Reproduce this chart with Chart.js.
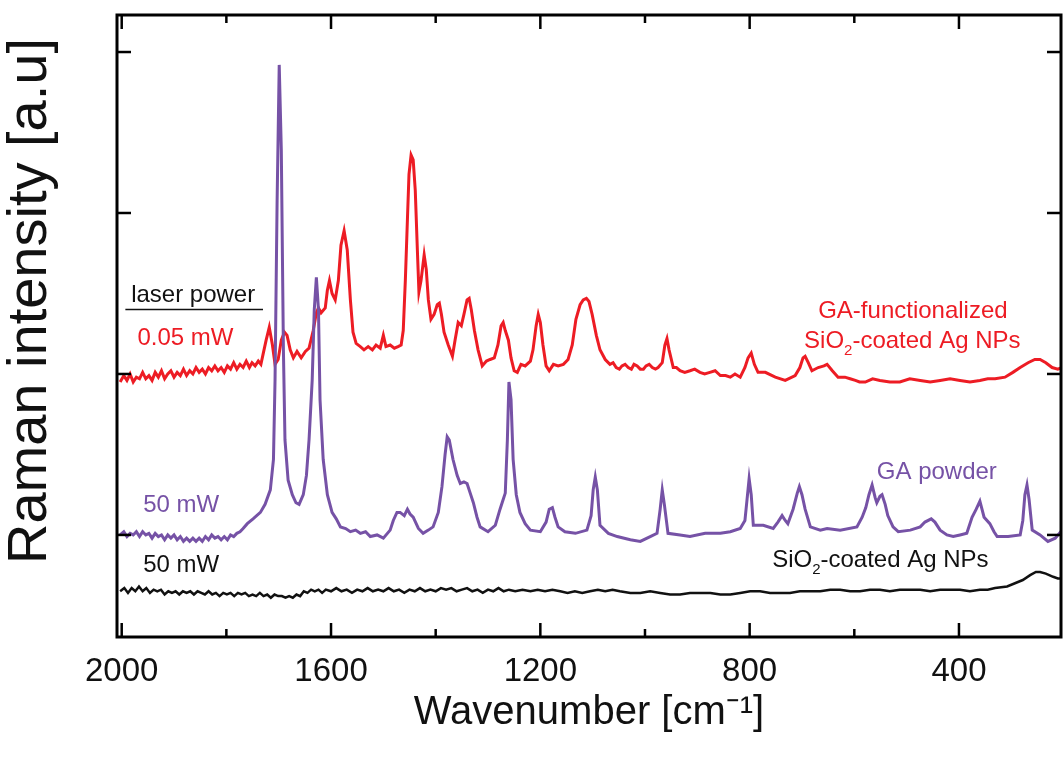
<!DOCTYPE html>
<html>
<head>
<meta charset="utf-8">
<script src="https://cdn.jsdelivr.net/npm/chart.js@4.4.1/dist/chart.umd.min.js"></script>
<style>
  html, body { margin: 0; padding: 0; background: #fff; }
  #wrap { width: 1063px; height: 762px; }
</style>
</head>
<body>
<div id="wrap"><canvas id="ramanChart"></canvas></div>
<script>
// Raman spectra: wavenumber [cm-1] and intensity [a.u.]

// GA-functionalized SiO2-coated Ag NPs, 0.05 mW (red)
const gaFuncWn = [
  2003,1996,1990,1984,1978,1972,1966,1960,1954,1948,
  1942,1936,1930,1924,1918,1912,1906,1900,1894,1888,
  1882,1876,1870,1864,1858,1852,1846,1840,1834,1828,
  1822,1816,1810,1804,1798,1792,1786,1780,1774,1768,
  1762,1756,1751,1745,1739,1734,
  1730,1724,1718,1712,1707,1701,1695,1689,1684,1678,
  1672,1665,1657,1649,1642,1634,1628,1624,1619,1611,
  1607,1603,1598,1592,1586,1581,1575,1569,1563,1558,
  1552,1544,1537,1529,1521,1514,1506,1500,1495,1487,
  1479,1472,1466,1462,1458,1454,1451,1447,1443,1439,
  1435,1432,1428,1422,1418,1414,1409,1403,1397,1393,
  1389,1384,1376,1368,1363,1357,1351,1346,1340,1336,
  1332,1326,1319,1311,1303,1296,1288,1281,1275,1271,
  1267,1261,1256,1250,1244,1237,1229,1219,1214,1208,
  1204,1200,1195,1189,1183,1175,1166,1156,1147,1139,
  1132,1124,1118,1112,1107,1101,1093,1086,1076,
  1067,1061,1055,1049,1044,1038,1032,1026,1021,1015,
  1009,1003,998,992,986,980,975,967,962,958,
  954,946,940,933,924,914,905,895,886,876,
  866,856,846,837,828,818,809,803,797,791,
  784,770,751,732,713,704,698,694,688,681,
  669,658,652,642,631,618,608,598,590,579,
  565,551,532,513,494,474,455,436,417,398,
  379,360,345,331,312,297,283,268,255,245,
  234,222,211,203
];
const gaFuncInt = [
  1.95,1.99,1.96,2.00,1.95,1.98,1.97,2.01,1.97,1.99,
  1.96,2.01,1.98,2.02,1.97,2.00,2.02,1.98,2.01,1.99,
  2.03,1.99,2.02,2.00,2.04,2.01,2.03,2.00,2.04,2.02,
  2.05,2.02,2.04,2.01,2.05,2.03,2.07,2.03,2.06,2.04,
  2.08,2.04,2.07,2.05,2.08,2.06,
  2.12,2.21,2.29,2.18,2.06,2.09,2.21,2.26,2.24,2.15,
  2.10,2.14,2.10,2.14,2.16,2.27,2.38,2.41,2.38,2.41,
  2.52,2.58,2.50,2.46,2.58,2.80,2.89,2.77,2.46,2.26,
  2.19,2.17,2.15,2.17,2.15,2.18,2.16,2.24,2.17,2.18,
  2.16,2.17,2.18,2.27,2.58,2.96,3.24,3.36,3.33,3.14,
  2.77,2.51,2.58,2.74,2.65,2.46,2.34,2.37,2.43,2.44,
  2.37,2.26,2.18,2.11,2.21,2.32,2.30,2.37,2.46,2.47,
  2.40,2.27,2.15,2.05,2.08,2.09,2.10,2.18,2.30,2.32,
  2.27,2.21,2.10,2.02,2.01,2.06,2.05,2.08,2.15,2.30,
  2.37,2.32,2.18,2.05,2.02,2.06,2.05,2.06,2.09,2.18,
  2.34,2.43,2.46,2.47,2.45,2.37,2.24,2.15,2.09,
  2.06,2.07,2.04,2.03,2.05,2.06,2.04,2.03,2.06,2.05,
  2.03,2.03,2.05,2.06,2.04,2.03,2.04,2.07,2.18,2.22,
  2.15,2.04,2.04,2.02,2.01,2.02,2.03,2.01,2.00,2.01,
  2.02,1.99,1.99,1.98,2.00,1.98,2.04,2.10,2.13,2.06,
  2.01,2.01,1.98,1.96,1.99,2.04,2.10,2.11,2.07,2.02,
  2.04,2.05,2.06,2.02,1.98,1.98,1.97,1.96,1.95,1.95,
  1.97,1.96,1.95,1.95,1.97,1.96,1.95,1.96,1.97,1.96,
  1.95,1.96,1.97,1.97,1.98,2.01,2.04,2.07,2.09,2.09,
  2.07,2.04,2.03,2.04
];

// GA powder, 50 mW (purple)
const gaPowderWn = [
  2003,1996,1990,1984,1978,1972,1966,1960,1954,1948,
  1942,1936,1930,1924,1918,1912,1906,1900,1894,1888,
  1882,1876,1870,1864,1858,1852,1846,1840,1834,1828,
  1822,1816,1810,1804,1798,1792,1786,1780,1774,1768,
  1760,1749,1735,1726,1716,1710,1707,1703,1699,1695,
  1691,1688,1682,1674,1667,1661,1653,1647,1642,1636,
  1632,1628,1624,1621,1615,1607,1598,1590,1582,1572,
  1563,1553,1544,1534,1525,1512,1500,1487,1481,1474,
  1468,1460,1454,1449,1443,1433,1424,1414,1405,1395,
  1388,1382,1378,1374,1367,1359,1353,1346,1340,1334,
  1328,1321,1315,1300,1286,1277,1271,1267,1263,1260,
  1256,1252,1246,1239,1229,1219,1200,1189,1183,1177,
  1172,1166,1153,1133,1111,1103,1099,1095,1091,1086,
  1070,1053,1028,1009,990,977,971,967,963,956,
  933,914,885,856,837,818,809,805,801,797,
  793,774,755,746,738,732,727,717,709,705,
  700,694,684,665,652,627,595,585,578,572,
  566,560,557,551,547,541,536,526,516,493,
  474,465,453,446,436,423,411,398,385,375,
  367,360,352,341,333,327,306,283,278,274,
  270,266,260,245,230,216,203
];
const gaPowderInt = [
  1.00,1.02,0.99,1.01,1.00,1.02,0.99,1.02,1.00,1.01,
  0.98,1.01,0.99,1.00,0.97,1.00,0.98,1.00,0.97,0.99,
  0.96,0.98,0.96,0.98,0.96,0.98,0.96,0.99,0.97,1.00,
  0.98,0.99,0.97,0.99,0.97,1.00,0.99,1.01,1.02,1.04,
  1.07,1.10,1.14,1.19,1.28,1.47,1.96,3.08,3.92,3.39,
  2.15,1.59,1.34,1.25,1.20,1.19,1.25,1.37,1.59,1.96,
  2.40,2.60,2.40,1.84,1.47,1.25,1.14,1.10,1.05,1.04,
  1.02,1.03,1.01,1.02,0.99,1.00,0.98,1.03,1.09,1.14,
  1.14,1.12,1.16,1.13,1.11,1.04,1.01,1.03,1.05,1.14,
  1.30,1.50,1.61,1.59,1.47,1.37,1.32,1.33,1.32,1.26,
  1.20,1.11,1.05,1.02,1.06,1.16,1.22,1.26,1.59,1.95,
  1.84,1.47,1.25,1.14,1.07,1.03,1.02,1.08,1.16,1.17,
  1.11,1.05,1.02,1.01,1.03,1.12,1.28,1.36,1.28,1.06,
  1.01,0.99,0.97,0.96,0.99,1.01,1.16,1.28,1.19,1.01,
  1.00,0.99,1.01,1.01,1.02,1.04,1.09,1.22,1.35,1.25,
  1.06,1.06,1.04,1.08,1.12,1.09,1.07,1.16,1.26,1.30,
  1.25,1.16,1.05,1.03,1.04,1.03,1.05,1.11,1.17,1.25,
  1.31,1.23,1.20,1.24,1.25,1.19,1.12,1.05,1.02,1.03,
  1.05,1.08,1.10,1.08,1.03,1.00,0.99,1.00,1.01,1.11,
  1.16,1.21,1.11,1.07,1.02,0.99,0.99,1.00,1.09,1.25,
  1.31,1.22,1.03,1.00,0.96,0.98,1.03
];

// SiO2-coated Ag NPs, 50 mW (black)
const agNpWn = [
  2003,1995,1988,1981,1974,1967,1960,1953,1946,1939,
  1932,1925,1918,1911,1904,1897,1890,1883,1876,1869,
  1862,1855,1848,1841,1834,1827,1820,1813,1806,1799,
  1792,1785,1778,1771,1764,1757,1750,1743,1736,1729,
  1722,1715,1708,1701,1694,1687,1680,1673,1666,1659,
  1652,1645,1638,1631,1624,1617,1610,1600,1590,1580,
  1570,1560,1550,1540,1530,1520,1510,1500,1490,1480,
  1470,1460,1450,1440,1430,1420,1410,1400,1390,1380,
  1370,1360,1350,1340,1330,1320,1310,1300,1290,1280,
  1270,1260,1248,1234,1219,1205,1191,1177,1162,1148,
  1134,1120,1105,1090,1076,1062,1048,1028,1009,990,
  971,952,933,914,895,875,856,837,818,799,
  780,761,742,723,704,685,665,646,627,608,
  589,570,551,532,513,494,474,455,436,417,
  398,379,360,345,331,308,293,278,264,253,
  245,234,220,211,203
];
const agNpInt = [
  0.65,0.67,0.64,0.67,0.65,0.68,0.65,0.67,0.64,0.66,
  0.65,0.66,0.63,0.65,0.64,0.65,0.63,0.65,0.64,0.65,
  0.63,0.65,0.64,0.63,0.65,0.63,0.64,0.62,0.64,0.63,
  0.64,0.62,0.64,0.63,0.64,0.62,0.63,0.62,0.64,0.62,
  0.63,0.61,0.63,0.62,0.62,0.61,0.62,0.61,0.63,0.62,
  0.65,0.64,0.66,0.65,0.66,0.64,0.66,0.65,0.67,0.65,
  0.66,0.64,0.66,0.65,0.67,0.65,0.66,0.65,0.67,0.65,
  0.66,0.64,0.66,0.65,0.67,0.65,0.66,0.65,0.67,0.66,
  0.67,0.65,0.66,0.67,0.65,0.66,0.64,0.66,0.65,0.67,
  0.65,0.66,0.65,0.66,0.65,0.66,0.65,0.66,0.65,0.64,
  0.65,0.64,0.65,0.66,0.65,0.66,0.65,0.64,0.64,0.65,
  0.64,0.63,0.63,0.64,0.64,0.64,0.63,0.63,0.64,0.65,
  0.65,0.64,0.64,0.64,0.65,0.65,0.65,0.66,0.66,0.65,
  0.65,0.66,0.66,0.65,0.66,0.66,0.66,0.65,0.66,0.66,
  0.66,0.65,0.66,0.66,0.67,0.68,0.70,0.72,0.75,0.77,
  0.77,0.76,0.74,0.73,0.73
];

const xMajorTicks = [2000, 1600, 1200, 800, 400];
const xMinorTicks = [1800, 1400, 1000, 600];
const yTicks = [1, 2, 3, 4];

const RED = "#ed1c24";
const PURPLE = "#7652a6";
const BLACK = "#111111";
const SANS = '"Liberation Sans", Arial, sans-serif';

// text labels placed at (wavenumber, intensity); parts flagged true are subscripts
const notes = [
  { wn: 1982, v: 2.45, color: BLACK, parts: [["laser power", false]] },
  { wn: 1970, v: 2.18, color: RED, parts: [["0.05 mW", false]] },
  { wn: 1959, v: 1.14, color: PURPLE, parts: [["50 mW", false]] },
  { wn: 1959, v: 0.77, color: BLACK, parts: [["50 mW", false]] },
  { wn: 669, v: 2.35, color: RED, parts: [["GA-functionalized", false]] },
  { wn: 696, v: 2.16, color: RED, parts: [["SiO", false], ["2", true], ["-coated Ag NPs", false]] },
  { wn: 557, v: 1.35, color: PURPLE, parts: [["GA powder", false]] },
  { wn: 757, v: 0.8, color: BLACK, parts: [["SiO", false], ["2", true], ["-coated Ag NPs", false]] },
];

function toPoints(wn, vals) {
  return wn.map((w, i) => ({ x: w, y: vals[i] }));
}

// frame, inward ticks, y title and text labels
const decorPlugin = {
  id: "decor",
  afterDraw(chart) {
    const { ctx, chartArea: a } = chart;
    const xs = chart.scales.x;
    const ys = chart.scales.y;
    ctx.save();
    ctx.strokeStyle = "#000";
    ctx.lineWidth = 3;
    ctx.strokeRect(a.left, a.top, a.right - a.left, a.bottom - a.top);

    const seg = (x1, y1, x2, y2) => {
      ctx.beginPath();
      ctx.moveTo(x1, y1);
      ctx.lineTo(x2, y2);
      ctx.stroke();
    };
    ctx.lineWidth = 2.5;
    xMajorTicks.forEach((v) => {
      const px = xs.getPixelForValue(v);
      seg(px, a.bottom, px, a.bottom - 14);
      seg(px, a.top, px, a.top + 14);
    });
    xMinorTicks.forEach((v) => {
      const px = xs.getPixelForValue(v);
      seg(px, a.bottom, px, a.bottom - 8);
      seg(px, a.top, px, a.top + 8);
    });
    yTicks.forEach((v) => {
      const py = ys.getPixelForValue(v);
      seg(a.left, py, a.left + 14, py);
      seg(a.right, py, a.right - 14, py);
    });

    // y axis title
    ctx.save();
    ctx.translate(31, (a.top + a.bottom) / 2 - 25);
    ctx.rotate(-Math.PI / 2);
    ctx.fillStyle = BLACK;
    ctx.font = "56px " + SANS;
    ctx.textAlign = "center";
    ctx.textBaseline = "middle";
    ctx.fillText("Raman intensity [a.u]", 0, 0);
    ctx.restore();

    // text labels
    ctx.textAlign = "left";
    ctx.textBaseline = "alphabetic";
    notes.forEach((n) => {
      let px = xs.getPixelForValue(n.wn);
      const py = ys.getPixelForValue(n.v);
      ctx.fillStyle = n.color;
      n.parts.forEach(([t, sub]) => {
        ctx.font = (sub ? "15px " : "24px ") + SANS;
        ctx.fillText(t, px, sub ? py + 7 : py);
        px += ctx.measureText(t).width;
      });
    });

    // underline below "laser power"
    ctx.strokeStyle = BLACK;
    ctx.lineWidth = 1.5;
    const uy = ys.getPixelForValue(2.4);
    seg(xs.getPixelForValue(1993), uy, xs.getPixelForValue(1730), uy);
    ctx.restore();
  },
};

new Chart(document.getElementById("ramanChart"), {
  type: "line",
  data: {
    datasets: [
      {
        label: "GA powder",
        data: toPoints(gaPowderWn, gaPowderInt),
        borderColor: PURPLE,
        borderWidth: 3,
      },
      {
        label: "GA-functionalized SiO2-coated Ag NPs",
        data: toPoints(gaFuncWn, gaFuncInt),
        borderColor: RED,
        borderWidth: 3,
      },
      {
        label: "SiO2-coated Ag NPs",
        data: toPoints(agNpWn, agNpInt),
        borderColor: BLACK,
        borderWidth: 2.5,
      },
    ],
  },
  options: {
    responsive: true,
    maintainAspectRatio: false,
    animation: false,
    devicePixelRatio: 1,
    elements: { point: { radius: 0 }, line: { tension: 0, fill: false } },
    layout: { padding: { top: 15, right: 2, left: 0, bottom: 0 } },
    plugins: {
      legend: { display: false },
      tooltip: { enabled: false },
    },
    scales: {
      x: {
        type: "linear",
        reverse: true,
        min: 205,
        max: 2009,
        afterBuildTicks: (s) => {
          s.ticks = xMajorTicks.map((v) => ({ value: v }));
        },
        afterFit: (s) => {
          s.height = 125;
        },
        grid: { display: false, drawTicks: false },
        border: { display: false },
        ticks: {
          autoSkip: false,
          maxRotation: 0,
          padding: 18,
          color: BLACK,
          font: { family: SANS, size: 33, lineHeight: 1 },
          callback: (v) => String(v),
        },
        title: {
          display: true,
          text: "Wavenumber [cm\u207B\u00B9]",
          color: BLACK,
          font: { family: SANS, size: 40, lineHeight: 1 },
          padding: { top: 0, bottom: 29 },
        },
      },
      y: {
        type: "linear",
        min: 0.366,
        max: 4.23,
        afterBuildTicks: (s) => {
          s.ticks = yTicks.map((v) => ({ value: v }));
        },
        afterFit: (s) => {
          s.width = 117;
        },
        grid: { display: false, drawTicks: false },
        border: { display: false },
        ticks: { display: false },
      },
    },
  },
  plugins: [decorPlugin],
});
</script>
</body>
</html>
